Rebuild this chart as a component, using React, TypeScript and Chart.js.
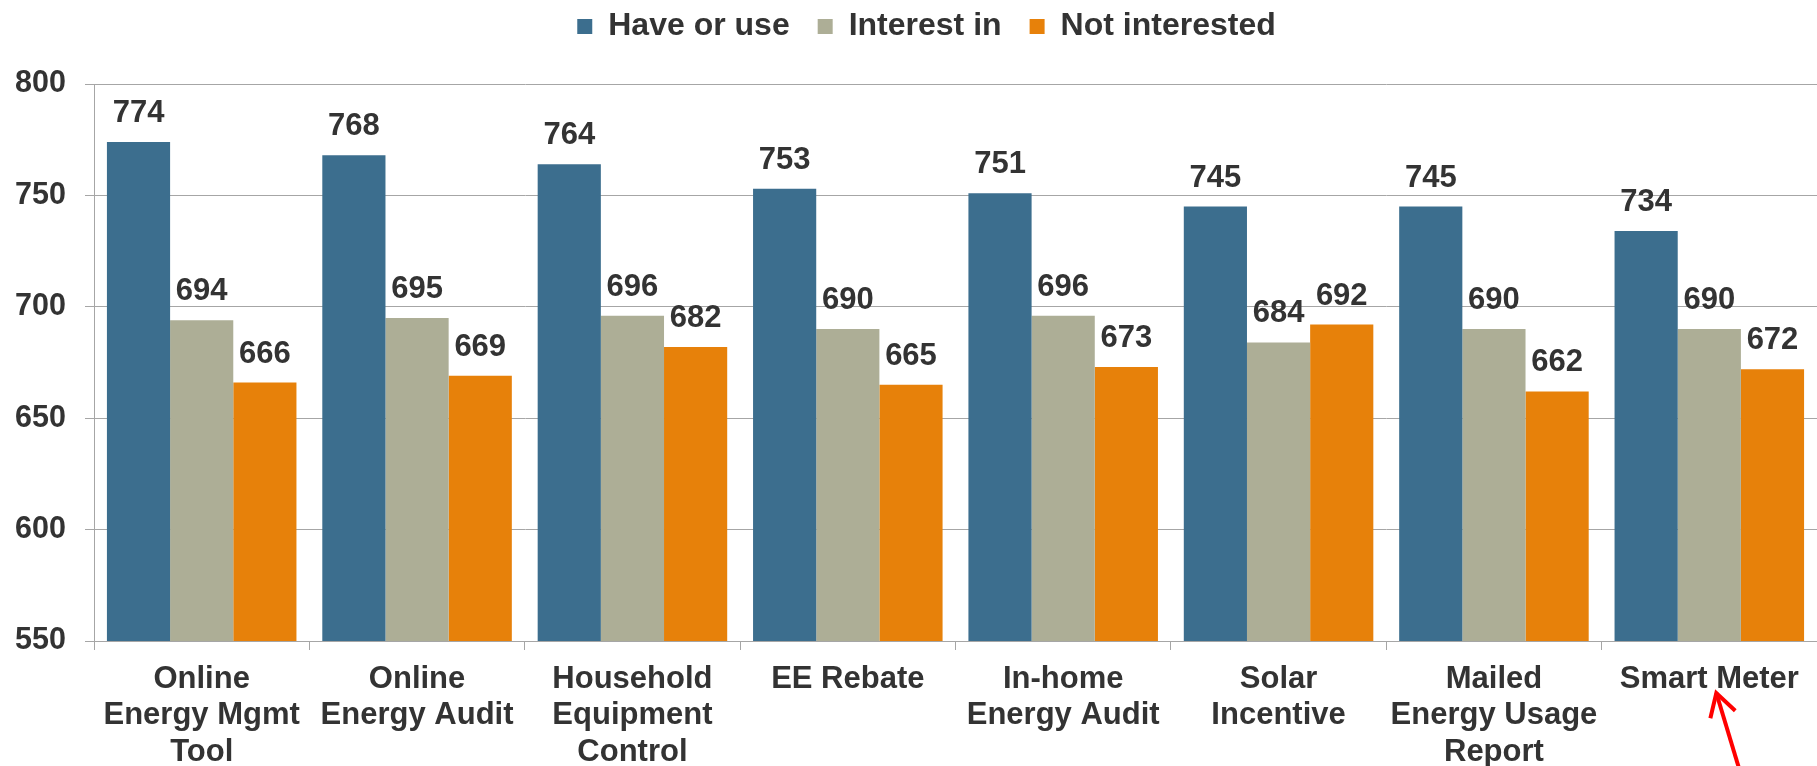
import React, { useEffect, useRef } from 'react';
import { Chart, registerables } from 'chart.js';

Chart.register(...registerables);

const categories: string[][] = [
  ['Online', 'Energy Mgmt', 'Tool'],
  ['Online', 'Energy Audit'],
  ['Household', 'Equipment', 'Control'],
  ['EE Rebate'],
  ['In-home', 'Energy Audit'],
  ['Solar', 'Incentive'],
  ['Mailed', 'Energy Usage', 'Report'],
  ['Smart Meter'],
];

const seriesNames = ['Have or use', 'Interest in', 'Not interested'];
const haveOrUse = [774, 768, 764, 753, 751, 745, 745, 734];
const interestIn = [694, 695, 696, 690, 696, 684, 690, 690];
const notInterested = [666, 669, 682, 665, 673, 692, 662, 672];

const yMin = 550;
const yMax = 800;
const yStep = 50;

const COLORS = ['#3C6E8E', '#ADAE96', '#E7810A'];
const TEXT = '#333333';
const GRID = '#A6A6A6';
const FONT = '"Liberation Sans", Arial, Helvetica, sans-serif';

const LEGEND_PAD = 28;
const LEGEND_EXTRA = 14;
const LEGEND_SHIFT_Y = -17.5;
const LEGEND_SHIFT_X = 18;

const valueLabels = {
  id: 'valueLabels',
  afterDatasetsDraw(chart: any) {
    const ctx = chart.ctx;
    ctx.save();
    ctx.font = `bold 31px ${FONT}`;
    ctx.fillStyle = TEXT;
    ctx.textAlign = 'center';
    ctx.textBaseline = 'alphabetic';
    chart.data.datasets.forEach((ds: any, di: number) => {
      const meta = chart.getDatasetMeta(di);
      meta.data.forEach((bar: any, i: number) => {
        ctx.fillText(String(ds.data[i]), bar.x, bar.y - 20);
      });
    });
    ctx.restore();
  },
};

const legendPlacer = {
  id: 'legendPlacer',
  beforeLayout(chart: any) {
    const lg = chart.legend;
    if (lg && !lg.__patched) {
      const orig = lg.fit.bind(lg);
      lg.fit = () => {
        orig();
        lg.height += LEGEND_EXTRA;
      };
      lg.__patched = true;
    }
  },
  beforeDraw(chart: any) {
    const lg = chart.legend;
    if (lg) {
      lg.top = LEGEND_SHIFT_Y;
      lg.left = LEGEND_SHIFT_X;
      lg.right = chart.width + LEGEND_SHIFT_X;
    }
  },
};

const redArrow = {
  id: 'redArrow',
  afterDraw(chart: any) {
    const xs = chart.scales.x;
    const tipX = xs.getPixelForValue(categories.length - 1) + 7;
    const tipY = chart.chartArea.bottom + 52;
    const ang = Math.atan2(73, 22);
    const ctx = chart.ctx;
    ctx.save();
    ctx.strokeStyle = '#FF0000';
    ctx.lineWidth = 4;
    ctx.lineCap = 'butt';
    ctx.beginPath();
    ctx.moveTo(tipX, tipY);
    ctx.lineTo(tipX + Math.cos(ang) * 100, tipY + Math.sin(ang) * 100);
    ctx.stroke();
    const wing = 26;
    const spread = (30 * Math.PI) / 180;
    ctx.beginPath();
    ctx.moveTo(tipX + Math.cos(ang + spread) * wing, tipY + Math.sin(ang + spread) * wing);
    ctx.lineTo(tipX, tipY);
    ctx.lineTo(tipX + Math.cos(ang - spread) * wing, tipY + Math.sin(ang - spread) * wing);
    ctx.stroke();
    ctx.restore();
  },
};

export default function App() {
  const ref = useRef<HTMLCanvasElement>(null);

  useEffect(() => {
    document.body.style.margin = '0';
    Chart.defaults.font.family = FONT;
    const chart = new Chart(ref.current as HTMLCanvasElement, {
      type: 'bar',
      data: {
        labels: categories,
        datasets: [haveOrUse, interestIn, notInterested].map((d, i) => ({
          label: seriesNames[i],
          data: d,
          backgroundColor: COLORS[i],
          borderWidth: 0,
          categoryPercentage: 0.88,
          barPercentage: 1.0,
        })),
      },
      options: {
        animation: false,
        responsive: false,
        layout: { padding: { left: 0, right: 0, top: 0, bottom: 0 } },
        plugins: {
          tooltip: { enabled: false },
          legend: {
            position: 'top',
            labels: {
              boxWidth: 15,
              boxHeight: 15,
              padding: LEGEND_PAD,
              color: TEXT,
              font: { size: 32, weight: 'bold', family: FONT },
            },
          },
        },
        scales: {
          x: {
            grid: {
              display: true,
              drawOnChartArea: false,
              drawTicks: true,
              tickLength: 9,
              color: GRID,
              offset: true,
            },
            border: { display: true, color: GRID, width: 1 },
            ticks: {
              color: TEXT,
              padding: 11,
              maxRotation: 0,
              autoSkip: false,
              font: { size: 31, weight: 'bold', family: FONT, lineHeight: 1.18 },
            },
            afterFit(scale: any) {
              scale.height = 125;
            },
          },
          y: {
            min: yMin,
            max: yMax,
            ticks: {
              stepSize: yStep,
              color: TEXT,
              padding: 19,
              font: { size: 30.5, weight: 'bold', family: FONT },
            },
            grid: {
              color: GRID,
              lineWidth: 1,
              tickLength: 9,
              drawTicks: true,
            },
            border: { display: true, color: GRID, width: 1 },
            afterFit(scale: any) {
              scale.width = 94;
            },
          },
        },
      },
      plugins: [valueLabels, legendPlacer, redArrow],
    } as any);
    return () => chart.destroy();
  }, []);

  return (
    <div style={{ width: 1817, height: 766, overflow: 'hidden' }}>
      <canvas ref={ref} width={1817} height={766} style={{ display: 'block' }} />
    </div>
  );
}
